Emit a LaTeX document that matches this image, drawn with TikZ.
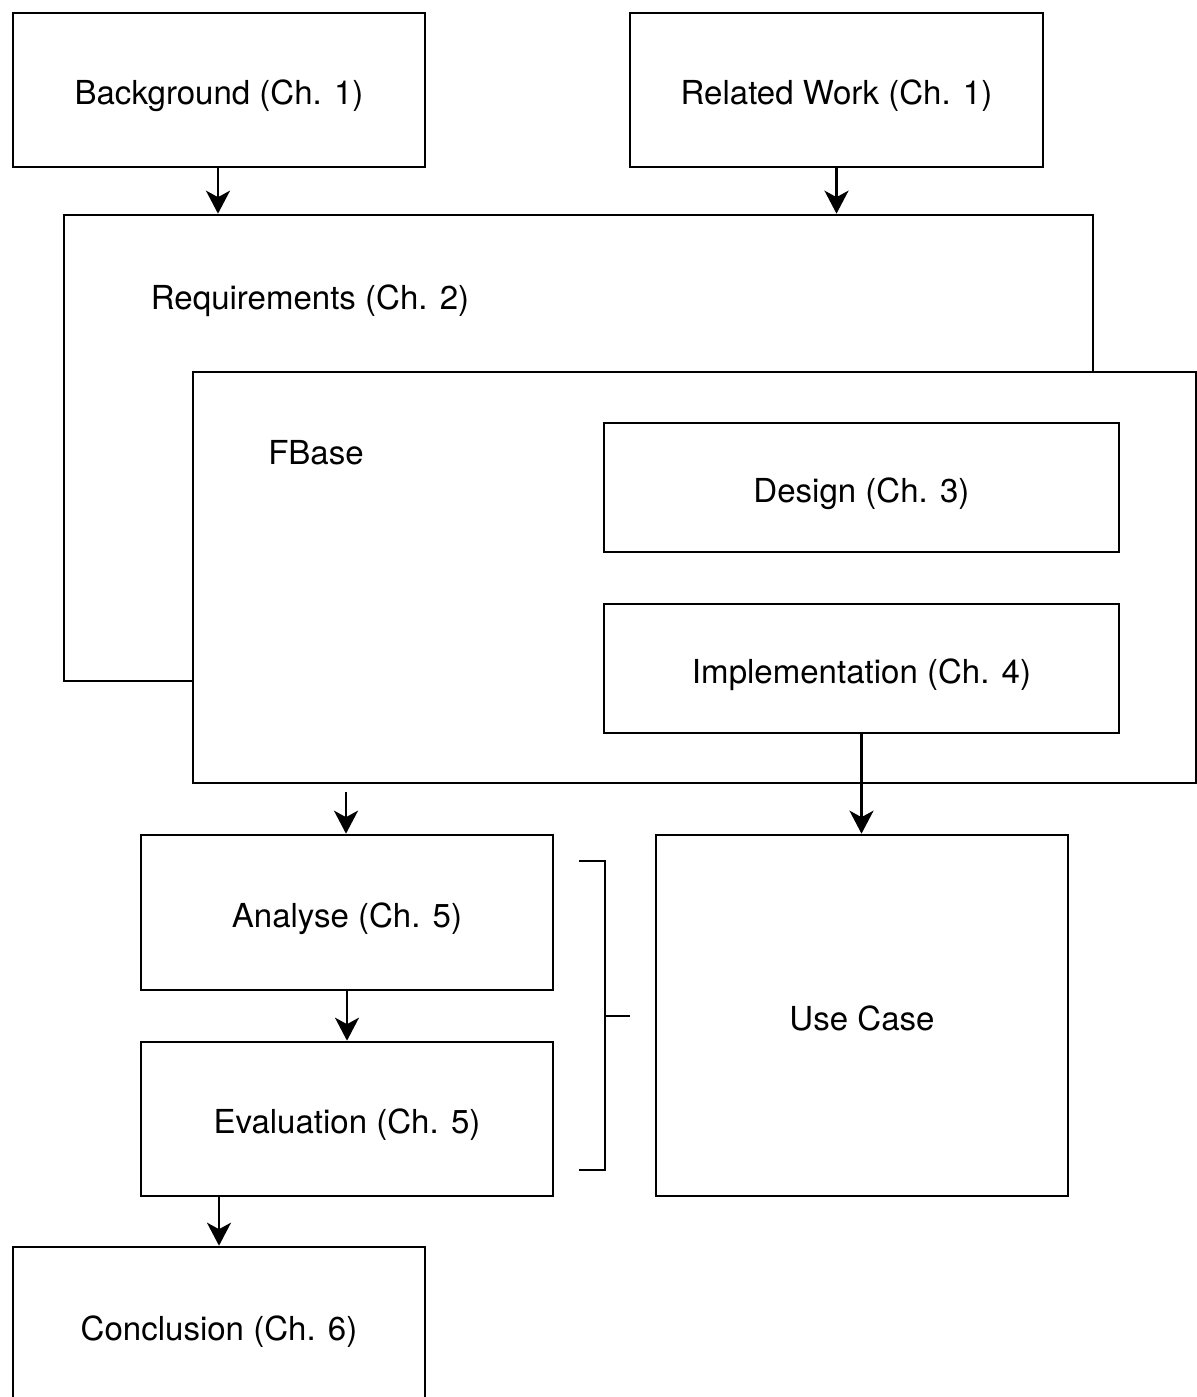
\documentclass[tikz,border=0pt]{standalone}
\usepackage{fontspec}
\setmainfont{TeX Gyre Heros}
\usepackage{tikz}
\usetikzlibrary{arrows.meta,positioning,calc}
\tikzstyle{chapbox}=[draw,fill=white,rectangle,line width=1.5pt,inner sep=0pt,text height=17pt,text depth=0pt,font=\fontsize{18.8}{22}\selectfont]
\tikzstyle{chaplabel}=[inner sep=0pt,font=\fontsize{18.8}{22}\selectfont]
\tikzstyle{flow}=[line width=1.5pt,-{Stealth[length=0.46cm,width=0.48cm,inset=0.13cm]}]

\begin{document}
\begin{tikzpicture}[line width=1.5pt]
\useasboundingbox (0,0) rectangle (23.94,-27.94);
% top row
\node [chapbox, minimum width=8.24cm, minimum height=3.08cm] (bg) at (4.38,-1.80) {Background (Ch. 1)};
\node [chapbox, minimum width=8.26cm, minimum height=3.08cm] (rw) at (16.73,-1.80) {Related Work (Ch. 1)};
% requirements and fbase
\node [chapbox, minimum width=20.58cm, minimum height=9.32cm] (req) at (11.57,-8.96) {};
\node [chaplabel] (reqlabel) at (6.20,-6.02) {Requirements (Ch. 2)};
\node [chapbox, minimum width=20.06cm, minimum height=8.22cm] (fb) at (13.89,-11.55) {};
\node [chaplabel] (fblabel) at (6.32,-9.06) {FBase};
\node [chapbox, minimum width=10.30cm, minimum height=2.58cm] (des) at (17.23,-9.75) {Design (Ch. 3)};
\node [chapbox, minimum width=10.30cm, minimum height=2.58cm] (impl) at (17.23,-13.37) {Implementation (Ch. 4)};
% use case part
\node [chapbox, minimum width=8.24cm, minimum height=3.10cm] (an) at (6.94,-18.25) {Analyse (Ch. 5)};
\node [chapbox, minimum width=8.24cm, minimum height=3.08cm] (ev) at (6.94,-22.38) {Evaluation (Ch. 5)};
\node [chapbox, minimum width=8.24cm, minimum height=7.22cm] (uc) at (17.24,-20.31) {Use Case};
\node [chapbox, minimum width=8.24cm, minimum height=3.16cm] (concl) at (4.38,-26.52) {Conclusion (Ch. 6)};
\coordinate (fbout) at (6.92,-15.84);

\draw [flow] (bg.south -| 4.36,0) -- (req.north -| 4.36,0);
\draw [flow] (rw.south) -- (rw.south |- req.north);
\draw [flow] (impl.south) -- (impl.south |- uc.north);
\draw [flow] (fbout) -- (fbout |- an.north);
\draw [flow] (an) -- (ev);
\draw [flow] (ev.south -| concl) -- (concl.north);

% bracket
\draw (11.58,-17.22) -- (12.10,-17.22) -- (12.10,-23.40) -- (11.58,-23.40);
\draw (12.10,-20.32) -- (12.60,-20.32);
\end{tikzpicture}
\end{document}
